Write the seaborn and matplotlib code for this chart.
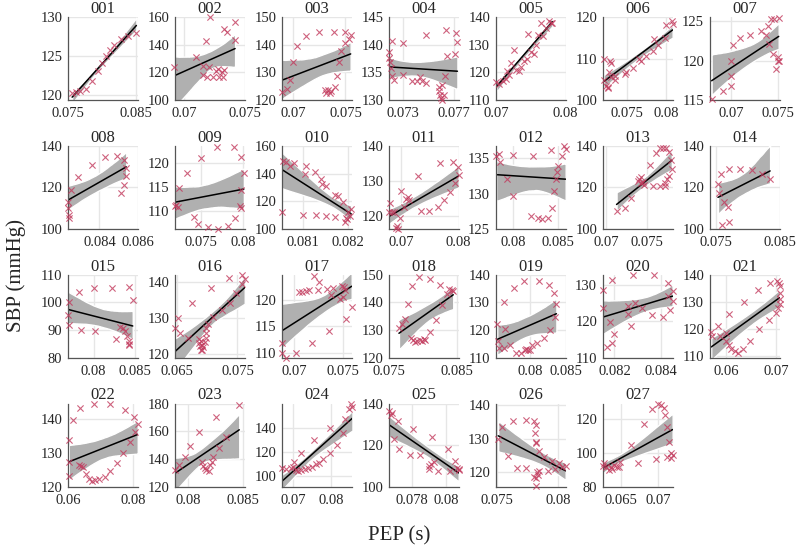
import matplotlib
matplotlib.use("Agg")
import matplotlib.pyplot as plt
from matplotlib.collections import PolyCollection
from matplotlib.ticker import FuncFormatter
import pandas as pd
import seaborn as sns

# PEP (s) and SBP (mmHg) per subject
pep_001 = [0.07563, 0.07612, 0.07671, 0.07759, 0.07856, 0.07939, 0.07998, 0.08051, 0.0811, 0.08173, 0.0827, 0.08378, 0.085]
sbp_001 = [120.2, 120.4, 120.5, 120.7, 121.8, 123.0, 124.1, 125.0, 125.8, 126.4, 127.2, 127.6, 128.0]

pep_002 = [0.06917, 0.07097, 0.0715, 0.0715, 0.07175, 0.0719, 0.0720, 0.07214, 0.0724, 0.0726, 0.0728, 0.0729, 0.0731, 0.0732, 0.0733, 0.0733, 0.0735, 0.0742, 0.0742]
sbp_002 = [124.3, 131.4, 124.8, 118.0, 142.6, 117.0, 123.6, 160.0, 116.4, 121.0, 122.4, 117.0, 120.0, 117.0, 122.0, 151.4, 149.3, 156.4, 143.3]

pep_003 = [0.0689, 0.0694, 0.0697, 0.0700, 0.0704, 0.0712, 0.0725, 0.0730, 0.0731, 0.0733, 0.0735, 0.0736, 0.0739, 0.0740, 0.0742, 0.0744, 0.0746, 0.0750, 0.0750, 0.0753, 0.0755]
sbp_003 = [123.0, 123.9, 127.4, 133.8, 139.5, 143.0, 144.6, 123.5, 122.5, 123.5, 122.5, 123.3, 144.6, 124.8, 128.8, 133.8, 137.8, 140.6, 144.6, 142.2, 143.7]

pep_004 = [0.07185, 0.0719, 0.07195, 0.0720, 0.0721, 0.0721, 0.0723, 0.0730, 0.0730, 0.0737, 0.0741, 0.0743, 0.0745, 0.0748, 0.0748, 0.0758, 0.0758, 0.0759, 0.0760, 0.0761, 0.0761, 0.0762, 0.0763, 0.0764, 0.0765, 0.0771, 0.0772, 0.0773]
sbp_004 = [138.7, 137.6, 136.8, 135.8, 134.3, 140.7, 133.7, 134.6, 140.4, 133.4, 133.4, 134.2, 133.4, 133.1, 141.7, 132.4, 131.6, 131.0, 130.4, 132.8, 130.1, 131.0, 134.4, 142.6, 138.0, 138.4, 142.1, 140.5]

pep_005 = [0.0701, 0.0705, 0.0710, 0.0714, 0.0716, 0.0719, 0.0722, 0.0726, 0.0729, 0.0733, 0.0736, 0.0740, 0.0744, 0.0746, 0.0750, 0.0754, 0.0757, 0.0760, 0.0764, 0.0768, 0.0772, 0.0776, 0.0779, 0.0781]
sbp_005 = [116.5, 116.0, 117.0, 117.5, 120.5, 119.0, 123.5, 128.0, 121.0, 120.5, 122.0, 124.0, 125.0, 134.0, 127.5, 126.7, 130.0, 133.6, 137.9, 133.0, 136.0, 138.4, 138.0, 137.9]

pep_006 = [0.0721, 0.0721, 0.0724, 0.0726, 0.0727, 0.0728, 0.0729, 0.0731, 0.0731, 0.0735, 0.0736, 0.0748, 0.0749, 0.0758, 0.0766, 0.0768, 0.0775, 0.0783, 0.0784, 0.0789, 0.0798, 0.0800, 0.0807, 0.0808]
sbp_006 = [110.0, 104.9, 103.4, 103.0, 103.2, 106.7, 109.5, 109.0, 105.6, 104.9, 105.7, 106.3, 106.7, 107.8, 109.8, 109.4, 110.7, 111.9, 114.7, 113.3, 114.9, 118.0, 119.0, 118.4]

pep_007 = [0.0679, 0.0691, 0.0700, 0.0700, 0.0700, 0.0702, 0.0709, 0.0720, 0.0732, 0.0737, 0.0740, 0.0741, 0.0743, 0.0745, 0.0746, 0.0748, 0.0750, 0.0750, 0.0751, 0.0751]
sbp_007 = [115.1, 116.1, 116.8, 118.1, 120.0, 122.0, 122.8, 123.2, 123.7, 123.2, 124.4, 122.1, 125.2, 120.8, 125.2, 119.0, 120.4, 120.0, 125.4, 119.9]

pep_008 = [0.08235, 0.08235, 0.0824, 0.0824, 0.0825, 0.0829, 0.0836, 0.0843, 0.0849, 0.0851, 0.0853, 0.0853, 0.0854, 0.0854]
sbp_008 = [113.1, 110.0, 106.9, 105.3, 118.7, 125.0, 130.8, 134.5, 135.3, 117.2, 133.4, 121.4, 125.3, 129.4]

pep_009 = [0.0719, 0.0721, 0.0723, 0.0724, 0.0733, 0.0742, 0.0747, 0.0750, 0.0758, 0.0769, 0.0770, 0.0782, 0.0789, 0.0790, 0.0796, 0.0797, 0.0798, 0.0798, 0.0801]
sbp_009 = [111.0, 111.2, 110.9, 114.8, 117.9, 108.7, 107.3, 121.0, 106.6, 123.4, 106.2, 106.9, 123.4, 108.6, 111.0, 110.5, 121.2, 114.4, 117.9]

pep_010 = [0.08053, 0.08056, 0.08062, 0.08072, 0.08081, 0.08099, 0.08104, 0.08107, 0.08126, 0.08128, 0.0814, 0.08143, 0.08152, 0.08152, 0.0817, 0.0817, 0.08178, 0.08189, 0.08193, 0.08195, 0.08198, 0.082, 0.08204, 0.08207]
sbp_010 = [112.0, 149.4, 148.7, 145.6, 148.0, 110.3, 140.0, 145.2, 140.9, 110.3, 136.2, 132.6, 131.4, 109.6, 108.6, 124.8, 123.6, 119.3, 104.8, 108.0, 107.2, 112.0, 109.1, 114.4]

pep_011 = [0.0678, 0.0681, 0.0684, 0.0687, 0.0691, 0.0692, 0.0694, 0.0697, 0.0700, 0.0705, 0.0708, 0.0711, 0.0713, 0.0729, 0.0735, 0.0749, 0.0764, 0.0767, 0.0775, 0.0784, 0.0790, 0.0793, 0.0799, 0.0800]
sbp_011 = [121.2, 123.6, 121.0, 121.0, 116.5, 117.0, 116.2, 119.5, 127.2, 122.4, 124.8, 125.5, 124.4, 131.4, 121.5, 121.5, 122.5, 135.0, 124.4, 126.7, 135.5, 129.3, 134.1, 131.7]

pep_012 = [0.07815, 0.0785, 0.0786, 0.0793, 0.0800, 0.0800, 0.0820, 0.0822, 0.0828, 0.0833, 0.0839, 0.0843, 0.0844, 0.0846, 0.0848, 0.0849, 0.0850, 0.0855, 0.0857, 0.0859]
sbp_012 = [135.3, 135.5, 134.4, 132.0, 135.4, 129.7, 126.9, 135.3, 126.6, 126.4, 126.6, 136.1, 128.0, 130.3, 132.0, 133.0, 133.9, 135.3, 136.7, 136.2]

pep_013 = [0.0713, 0.0723, 0.0731, 0.0739, 0.0741, 0.0743, 0.0743, 0.0745, 0.0747, 0.0754, 0.0758, 0.0762, 0.0767, 0.0767, 0.0770, 0.0772, 0.0773, 0.0774, 0.0775, 0.0777, 0.0778, 0.0780, 0.0781]
sbp_013 = [108.5, 110.1, 114.9, 122.9, 124.0, 122.1, 125.0, 122.4, 121.3, 130.9, 120.8, 136.8, 120.5, 138.9, 138.9, 120.8, 122.1, 138.9, 124.0, 125.6, 137.3, 133.4, 128.9]

pep_014 = [0.0753, 0.0754, 0.0758, 0.0759, 0.0762, 0.0769, 0.0770, 0.0770, 0.0787, 0.0806, 0.0823, 0.0835]
sbp_014 = [121.9, 117.1, 126.4, 101.9, 113.1, 110.7, 128.8, 103.5, 129.1, 128.3, 126.4, 123.9]

pep_015 = [0.0770, 0.0769, 0.0771, 0.0783, 0.0785, 0.0800, 0.0802, 0.0822, 0.0827, 0.0832, 0.0835, 0.0838, 0.0840, 0.0842, 0.0842, 0.0843, 0.0843, 0.0847]
sbp_015 = [100.0, 95.4, 92.0, 103.8, 90.0, 105.2, 89.6, 105.2, 86.8, 91.2, 90.8, 89.6, 88.0, 105.6, 86.1, 84.7, 84.9, 101.0]

pep_016 = [0.0647, 0.0652, 0.0655, 0.0668, 0.0675, 0.0687, 0.0687, 0.0688, 0.0690, 0.0691, 0.0690, 0.0692, 0.0693, 0.0697, 0.0698, 0.0699, 0.0699, 0.0701, 0.0706, 0.0709, 0.0724, 0.0736, 0.0737, 0.0748, 0.0757, 0.0757, 0.0762]
sbp_016 = [127.2, 130.0, 125.8, 124.6, 134.1, 124.3, 123.2, 122.3, 121.3, 121.1, 123.7, 122.7, 122.0, 123.4, 124.6, 125.8, 127.4, 128.4, 138.2, 130.3, 132.3, 141.1, 134.1, 137.0, 141.8, 139.4, 140.8]

pep_017 = [0.0687, 0.0687, 0.0691, 0.0702, 0.0705, 0.0708, 0.0712, 0.0715, 0.0718, 0.0720, 0.0724, 0.0725, 0.0734, 0.0736, 0.0738, 0.0740, 0.0747, 0.0749, 0.0750, 0.0751, 0.0753, 0.0752, 0.0759]
sbp_017 = [111.8, 110.0, 109.0, 109.9, 121.4, 121.4, 121.6, 121.8, 111.9, 124.5, 121.8, 123.3, 122.0, 114.1, 120.9, 122.2, 120.1, 122.6, 120.5, 122.4, 116.3, 121.8, 118.6]

pep_018 = [0.0765, 0.0770, 0.0774, 0.0778, 0.0783, 0.0784, 0.0785, 0.0789, 0.0792, 0.0794, 0.0796, 0.0799, 0.0802, 0.0804, 0.0810, 0.0811, 0.0819, 0.0826, 0.0828, 0.0836, 0.0839, 0.0843, 0.0845]
sbp_018 = [130.8, 132.4, 134.0, 139.6, 127.3, 146.0, 126.4, 125.7, 126.0, 149.2, 126.6, 126.0, 126.8, 126.4, 148.4, 129.3, 133.8, 146.4, 139.2, 143.2, 144.8, 144.4, 144.0]

pep_019 = [0.0754, 0.0755, 0.0756, 0.0763, 0.0763, 0.0765, 0.0772, 0.0777, 0.0781, 0.0788, 0.0792, 0.0793, 0.0795, 0.0797, 0.0800, 0.0803, 0.0810, 0.0812, 0.0819, 0.0826, 0.0828, 0.0834, 0.0835, 0.0837]
sbp_019 = [122.2, 116.0, 113.4, 113.7, 130.0, 120.4, 114.6, 135.2, 111.8, 111.8, 137.6, 112.8, 113.2, 113.0, 112.8, 114.6, 115.5, 137.6, 117.0, 136.4, 120.1, 133.4, 124.8, 129.3]

pep_020 = [0.0815, 0.0815, 0.0817, 0.0818, 0.0819, 0.0819, 0.0820, 0.0826, 0.0826, 0.0827, 0.0828, 0.0829, 0.0832, 0.0836, 0.0837, 0.0841, 0.0843, 0.0843, 0.0844, 0.0845, 0.0845]
sbp_020 = [128.5, 123.6, 113.0, 119.7, 114.2, 131.4, 116.4, 122.1, 124.3, 118.8, 132.7, 125.0, 123.6, 121.8, 132.5, 121.2, 130.5, 127.0, 123.0, 128.2, 125.5]

pep_021 = [0.0570, 0.0572, 0.0583, 0.0587, 0.0600, 0.0600, 0.0605, 0.0605, 0.0610, 0.0617, 0.0623, 0.0633, 0.0635, 0.0647, 0.0663, 0.0665, 0.0685, 0.0687, 0.0700, 0.0702, 0.0703, 0.0705, 0.0707, 0.0707, 0.0707, 0.0707]
sbp_021 = [118.8, 117.6, 121.3, 117.4, 118.4, 115.6, 114.0, 125.4, 112.8, 111.9, 111.1, 112.6, 129.9, 115.6, 134.5, 119.9, 123.4, 136.8, 126.1, 137.7, 127.9, 136.8, 135.8, 133.4, 130.9, 129.1]

pep_022 = [0.0603, 0.0605, 0.0605, 0.0615, 0.0634, 0.0638, 0.0641, 0.0646, 0.0654, 0.0664, 0.0674, 0.0679, 0.0684, 0.0694, 0.0712, 0.0727, 0.0727, 0.0749, 0.0769, 0.0775, 0.0789, 0.0802, 0.0804, 0.0813]
sbp_022 = [133.7, 127.4, 123.2, 139.7, 126.4, 143.1, 126.1, 125.7, 123.8, 122.2, 121.8, 144.3, 122.0, 122.2, 122.8, 124.5, 144.2, 126.9, 130.0, 142.6, 133.2, 140.5, 136.1, 138.4]

pep_023 = [0.0788, 0.0792, 0.0797, 0.0802, 0.0810, 0.0813, 0.0814, 0.0816, 0.0817, 0.0819, 0.0820, 0.0822, 0.0823, 0.0826, 0.0828, 0.0835, 0.0847]
sbp_023 = [132.0, 136.0, 141.5, 149.2, 159.3, 137.6, 134.7, 133.5, 132.3, 131.1, 136.0, 137.6, 141.5, 170.4, 148.0, 155.9, 179.3]

pep_024 = [0.0670, 0.0682, 0.0693, 0.0700, 0.0701, 0.0707, 0.0713, 0.0719, 0.0721, 0.0730, 0.0739, 0.0750, 0.0753, 0.0760, 0.0767, 0.0778, 0.0795, 0.0797, 0.0815, 0.0829, 0.0835, 0.0846, 0.0852, 0.0855]
sbp_024 = [106.3, 105.5, 106.3, 107.7, 111.8, 104.9, 104.4, 119.2, 104.9, 105.5, 106.3, 107.7, 129.6, 109.9, 111.0, 113.7, 119.2, 139.2, 125.5, 135.6, 147.4, 155.6, 159.7, 156.9]

pep_025 = [0.0767, 0.0768, 0.0769, 0.0770, 0.0772, 0.0773, 0.0779, 0.0781, 0.0785, 0.0790, 0.0790, 0.0791, 0.0792, 0.0793, 0.0795, 0.0801, 0.0802, 0.0805, 0.0806, 0.0807, 0.0807]
sbp_025 = [136.3, 134.7, 135.5, 123.2, 131.6, 118.1, 115.2, 128.0, 115.2, 109.8, 108.6, 111.0, 123.7, 112.1, 107.8, 118.1, 107.8, 112.6, 108.9, 108.6, 108.2]

pep_026 = [0.0751, 0.0754, 0.0759, 0.07633, 0.07665, 0.0774, 0.0774, 0.07798, 0.07806, 0.07814, 0.0782, 0.07825, 0.0782, 0.07814, 0.0784, 0.07886, 0.07798, 0.0782, 0.07833, 0.07846, 0.07913, 0.07948, 0.07974, 0.08006, 0.08033, 0.0806]
sbp_026 = [130.0, 133.3, 124.8, 135.1, 121.2, 135.5, 121.2, 135.1, 131.5, 133.9, 129.1, 120.0, 115.9, 128.8, 126.2, 124.7, 118.8, 118.5, 119.2, 120.5, 120.5, 123.4, 121.0, 122.7, 121.7, 121.9]

pep_027 = [0.0625, 0.0627, 0.0630, 0.0633, 0.0636, 0.0638, 0.0640, 0.0644, 0.0647, 0.0648, 0.0664, 0.0673, 0.0681, 0.0692, 0.0697, 0.0700, 0.0704, 0.0708, 0.0710, 0.0712, 0.0712, 0.0715, 0.0718, 0.0718, 0.0720]
sbp_027 = [92.2, 93.8, 91.4, 89.8, 91.4, 90.2, 92.8, 91.4, 91.4, 94.7, 104.5, 94.2, 116.7, 125.8, 96.1, 128.4, 127.8, 126.4, 122.0, 115.1, 97.6, 106.4, 100.0, 96.7, 98.6]

subjects = ["%03d" % i for i in range(1, 28)]
pep = [pep_001, pep_002, pep_003, pep_004, pep_005, pep_006, pep_007, pep_008, pep_009,
       pep_010, pep_011, pep_012, pep_013, pep_014, pep_015, pep_016, pep_017, pep_018,
       pep_019, pep_020, pep_021, pep_022, pep_023, pep_024, pep_025, pep_026, pep_027]
sbp = [sbp_001, sbp_002, sbp_003, sbp_004, sbp_005, sbp_006, sbp_007, sbp_008, sbp_009,
       sbp_010, sbp_011, sbp_012, sbp_013, sbp_014, sbp_015, sbp_016, sbp_017, sbp_018,
       sbp_019, sbp_020, sbp_021, sbp_022, sbp_023, sbp_024, sbp_025, sbp_026, sbp_027]

# tick values shown on each panel
x_ticks = [[0.075, 0.085], [0.07, 0.075], [0.07, 0.075], [0.073, 0.077], [0.07, 0.08],
           [0.075, 0.08], [0.07, 0.075], [0.084, 0.086], [0.075, 0.08], [0.081, 0.082],
           [0.07, 0.08], [0.08, 0.085], [0.07, 0.075], [0.075, 0.085], [0.08, 0.085],
           [0.065, 0.075], [0.07, 0.075], [0.075, 0.085], [0.08, 0.085], [0.082, 0.084],
           [0.06, 0.07], [0.06, 0.08], [0.08, 0.085], [0.07, 0.08], [0.078, 0.08],
           [0.075, 0.08], [0.065, 0.07]]
y_ticks = [[120, 125, 130], [100, 120, 140, 160], [120, 130, 140, 150], [130, 135, 140, 145],
           [110, 120, 130, 140], [100, 110, 120], [115, 120, 125], [100, 120, 140],
           [110, 115, 120], [100, 120, 140, 160], [120, 130, 140], [125, 130, 135],
           [100, 120, 140], [100, 120, 140], [80, 90, 100, 110], [120, 130, 140],
           [110, 115, 120], [120, 130, 140, 150], [110, 120, 130, 140], [110, 120, 130],
           [110, 120, 130, 140], [120, 130, 140], [120, 140, 160, 180], [100, 120, 140],
           [100, 120, 140], [120, 130, 140], [80, 100, 120]]

# axis windows per panel
x_lims = [(0.075, 0.0852), (0.0692, 0.075), (0.0689, 0.0756), (0.07185, 0.0774), (0.0700, 0.0800),
          (0.0720, 0.0808), (0.0677, 0.0752), (0.08235, 0.0860), (0.0719, 0.0802), (0.08053, 0.08208),
          (0.0678, 0.0800), (0.0781, 0.0859), (0.0696, 0.0782), (0.0740, 0.0850), (0.0769, 0.0853),
          (0.0647, 0.0762), (0.0687, 0.0759), (0.0751, 0.0853), (0.0752, 0.0849), (0.0815, 0.0845),
          (0.0567, 0.0707), (0.0600, 0.0813), (0.0788, 0.0852), (0.0670, 0.0853), (0.0767, 0.0807),
          (0.0749, 0.0806), (0.0625, 0.0720)]
y_lims = [(119.3, 130), (100, 160), (120, 150), (130, 145), (110, 140), (100, 120), (115, 125.5),
          (100, 140), (106.2, 123.6), (100, 160), (116.2, 140), (125, 136.7), (100, 140), (100, 140),
          (80, 110), (119, 142), (109, 124.7), (120, 150), (110, 140), (110, 132.7), (109.4, 140),
          (120, 144.4), (120, 180), (91.2, 159.7), (100, 140), (115.8, 140.3), (80, 128.8)]

sns.set_theme(style="whitegrid")
plt.rcParams['font.family'] = ['Liberation Serif', 'DejaVu Serif']
plt.rcParams['axes.edgecolor'] = '#555555'
plt.rcParams['grid.color'] = '#e6e6e6'

fig, axes = plt.subplots(4, 7, figsize=(7.98, 5.5), dpi=100)
fig.subplots_adjust(left=0.085, right=0.977, top=0.969, bottom=0.115, wspace=0.53, hspace=0.55)

fmt = FuncFormatter(lambda v, p: "%g" % v)

for i, ax in enumerate(axes.flat):
    if i >= len(subjects):
        ax.axis('off')
        continue
    d = pd.DataFrame({"pep": pep[i], "sbp": sbp[i]})
    sns.regplot(data=d, x="pep", y="sbp", ax=ax, color="black", seed=0, n_boot=5000,
                marker="x",
                scatter_kws={"color": "#c23a5d", "s": 20,
                             "linewidths": 0.8, "zorder": 3, "clip_on": False},
                line_kws={"lw": 1.1, "zorder": 2.5})
    for c in ax.collections:
        if isinstance(c, PolyCollection):
            c.set_facecolor("#b0b0b0")
            c.set_alpha(1)
    ax.set_xlim(x_lims[i])
    ax.set_ylim(y_lims[i])
    ax.set_xticks(x_ticks[i])
    ax.set_yticks(y_ticks[i])
    ax.xaxis.set_major_formatter(fmt)
    ax.tick_params(labelsize=10.5, length=0)
    ax.tick_params(axis="x", pad=5)
    ax.tick_params(axis="y", pad=4)
    ax.set_xlabel("")
    ax.set_ylabel("")
    ax.set_title(subjects[i], fontsize=12, pad=3)
    sns.despine(ax=ax)
    for s in ["left", "bottom"]:
        ax.spines[s].set_linewidth(0.9)

fig.supylabel("SBP (mmHg)", x=0.008, fontsize=15)
fig.supxlabel("PEP (s)", y=0.008, fontsize=15)

fig.savefig("out.png", dpi=100)
